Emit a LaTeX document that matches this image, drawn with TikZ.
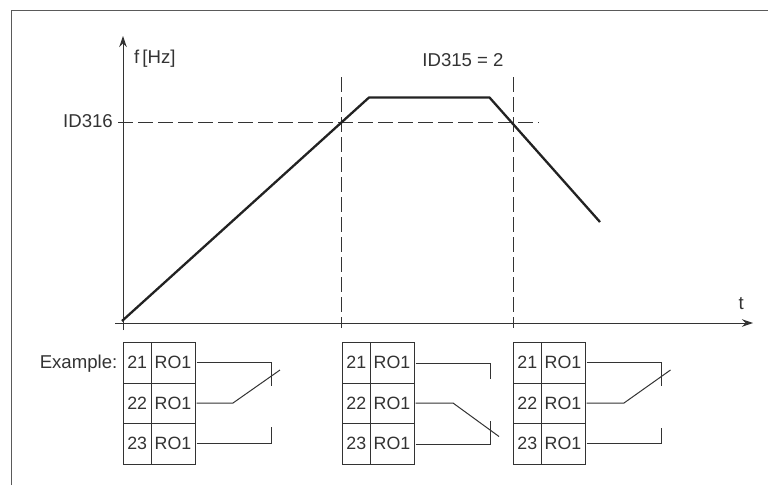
\documentclass[tikz,border=0pt]{standalone}
\usepackage{fontspec}
\setmainfont{Liberation Sans}
\usetikzlibrary{arrows.meta}
\definecolor{ink}{HTML}{333333}
\definecolor{curveink}{HTML}{222222}
\definecolor{framegray}{HTML}{5A5A5A}
\tikzset{
  lbl/.style={inner sep=0pt,text=ink,font=\fontsize{18.6}{20}\selectfont},
  numcell/.style={draw=ink,line width=1pt,minimum width=28.5pt,minimum height=40.5pt,inner sep=0pt,outer sep=0pt,text=ink,font=\fontsize{17.8}{20}\selectfont},
  rocell/.style={draw=ink,line width=1pt,minimum width=44pt,minimum height=40.5pt,inner sep=0pt,outer sep=0pt,text=ink,font=\fontsize{17.8}{20}\selectfont},
  axisline/.style={draw=ink,line width=1pt,-{Stealth[length=11pt,width=7.5pt]}},
  guide/.style={draw=ink,line width=0.9pt,dash pattern=on 15pt off 5pt},
  curve/.style={draw=curveink,line width=2.3pt,line join=round},
  wire/.style={draw=ink,line width=1pt,line join=miter}
}
\begin{document}
\begin{tikzpicture}[x=1pt,y=-1pt]
\useasboundingbox (0,0) rectangle (768,485);
\fill[white] (0,0) rectangle (768,485);
% frame
\coordinate (fbl) at (11.7,485);
\coordinate (ftl) at (11.7,10.7);
\coordinate (ftr) at (768,10.7);
\draw[framegray,line width=1.5pt] (fbl) -- (ftl) -- (ftr);
% axes
\coordinate (ys) at (123,330);
\coordinate (ye) at (123,36);
\coordinate (xs) at (115,323);
\coordinate (xe) at (753,323);
\draw[axisline] (ys) -- (ye);
\draw[axisline] (xs) -- (xe);
% guides
\coordinate (hs) at (118,122.5);
\coordinate (he) at (539,122.5);
\coordinate (v1s) at (341.7,77);
\coordinate (v1e) at (341.7,328);
\coordinate (v2s) at (513,77);
\coordinate (v2e) at (513,328);
\draw[guide] (hs) -- (he);
\draw[guide] (v1s) -- (v1e);
\draw[guide] (v2s) -- (v2e);
% curve
\coordinate (c0) at (122,321);
\coordinate (c1) at (369,97.5);
\coordinate (c2) at (489.5,97.5);
\coordinate (c3) at (600,222);
\draw[curve] (c0) -- (c1) -- (c2) -- (c3);
% labels
\node[lbl,anchor=west] (fhz) at (134,59) {f\,[Hz]};
\node[lbl,anchor=center] (id315) at (463,60) {ID315 = 2};
\node[lbl,anchor=east] (id316) at (113,121.5) {ID316};
\node[lbl,anchor=base west] (tl) at (738.5,309) {t};
\node[lbl,anchor=east] (ex) at (117.5,364) {Example:};
% terminal block 1
\node[numcell,anchor=north west] (a1) at (123,342.5) {21};
\node[rocell,anchor=north west] (b1) at (151,342.5) {RO1};
\node[numcell,anchor=north west] (a2) at (123,383) {22};
\node[rocell,anchor=north west] (b2) at (151,383) {RO1};
\node[numcell,anchor=north west] (a3) at (123,423.5) {23};
\node[rocell,anchor=north west] (b3) at (151,423.5) {RO1};
% terminal block 2
\node[numcell,anchor=north west] (d1) at (342,342.5) {21};
\node[rocell,anchor=north west] (e1) at (370,342.5) {RO1};
\node[numcell,anchor=north west] (d2) at (342,383) {22};
\node[rocell,anchor=north west] (e2) at (370,383) {RO1};
\node[numcell,anchor=north west] (d3) at (342,423.5) {23};
\node[rocell,anchor=north west] (e3) at (370,423.5) {RO1};
% terminal block 3
\node[numcell,anchor=north west] (g1) at (513,342.5) {21};
\node[rocell,anchor=north west] (h1) at (541,342.5) {RO1};
\node[numcell,anchor=north west] (g2) at (513,383) {22};
\node[rocell,anchor=north west] (h2) at (541,383) {RO1};
\node[numcell,anchor=north west] (g3) at (513,423.5) {23};
\node[rocell,anchor=north west] (h3) at (541,423.5) {RO1};
% contacts 1
\coordinate (p11) at (271.5,362);
\coordinate (p12) at (271.5,386);
\coordinate (p21) at (233,403);
\coordinate (p22) at (280,370);
\coordinate (p31) at (271.5,443);
\coordinate (p32) at (271.5,427);
\draw[wire] ([xshift=1.5pt,yshift=0.75pt]b1.east) -- (p11) -- (p12);
\draw[wire] ([xshift=1.5pt,yshift=0.25pt]b2.east) -- (p21) -- (p22);
\draw[wire] ([xshift=1.5pt,yshift=0.75pt]b3.east) -- (p31) -- (p32);
% contacts 2
\coordinate (q11) at (490,363);
\coordinate (q12) at (490,379);
\coordinate (q21) at (453,403);
\coordinate (q22) at (499,436.5);
\coordinate (q31) at (490,444);
\coordinate (q32) at (490,421);
\draw[wire] ([xshift=1.5pt,yshift=-0.25pt]e1.east) -- (q11) -- (q12);
\draw[wire] ([xshift=1.5pt,yshift=0.25pt]e2.east) -- (q21) -- (q22);
\draw[wire] ([xshift=1.5pt,yshift=-0.25pt]e3.east) -- (q31) -- (q32);
% contacts 3
\coordinate (r11) at (661,362);
\coordinate (r12) at (661,386);
\coordinate (r21) at (624,403);
\coordinate (r22) at (670.5,370);
\coordinate (r31) at (661,443);
\coordinate (r32) at (661,428);
\draw[wire] ([xshift=1.5pt,yshift=0.75pt]h1.east) -- (r11) -- (r12);
\draw[wire] ([xshift=1.5pt,yshift=0.25pt]h2.east) -- (r21) -- (r22);
\draw[wire] ([xshift=1.5pt,yshift=0.75pt]h3.east) -- (r31) -- (r32);
\end{tikzpicture}
\end{document}
